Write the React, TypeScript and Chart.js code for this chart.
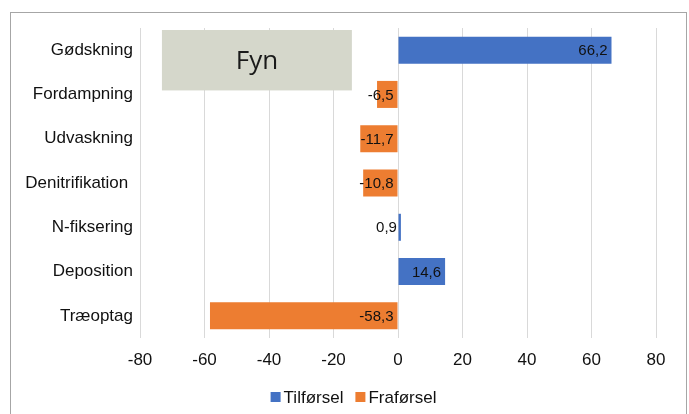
import { useEffect, useRef } from 'react';
import { Chart, registerables } from 'chart.js';

Chart.register(...registerables);

// Nitrogen balance per process (positive = supply, negative = removal)
const categories = ['Gødskning', 'Fordampning', 'Udvaskning', 'Denitrifikation ', 'N-fiksering', 'Deposition', 'Træoptag'];
const tilforsel = [66.2, null, null, null, 0.9, 14.6, null];
const fraforsel = [null, -6.5, -11.7, -10.8, null, null, -58.3];
const seriesNames = ['Tilførsel', 'Fraførsel'];
const seriesColors = ['#4472C4', '#ED7D31'];
const xMin = -80;
const xMax = 80;
const xStep = 20;
const regionLabel = 'Fyn';
const regionSpan = [-73.2, -14.3];

const fontFamily = '"Liberation Sans", Arial, sans-serif';
const axisFont = { family: fontFamily, size: 17 };
const textColor = '#111111';

const fmt = (v: number) => v.toFixed(1).replace('.', ',');

// Grey title box in the upper-left part of the plot
const regionBox = {
  id: 'regionBox',
  beforeDatasetsDraw(chart: any) {
    const { ctx, chartArea, scales } = chart;
    const x0 = scales.x.getPixelForValue(regionSpan[0]);
    const x1 = scales.x.getPixelForValue(regionSpan[1]);
    const y0 = chartArea.top + 2;
    const y1 = scales.y.getPixelForValue(1) - 4;
    ctx.save();
    ctx.fillStyle = '#D5D7CB';
    ctx.fillRect(x0, y0, x1 - x0, y1 - y0);
    ctx.fillStyle = '#1a1a1a';
    ctx.font = '26px "Open Sans", "Noto Sans", sans-serif';
    ctx.textAlign = 'center';
    ctx.textBaseline = 'middle';
    ctx.fillText(regionLabel, (x0 + x1) / 2, (y0 + y1) / 2 + 1);
    ctx.restore();
  },
};

// Value labels, right-aligned at the right edge of each bar
const valueLabels = {
  id: 'valueLabels',
  afterDatasetsDraw(chart: any) {
    const { ctx } = chart;
    ctx.save();
    ctx.font = `15px ${fontFamily}`;
    ctx.fillStyle = textColor;
    ctx.textAlign = 'right';
    ctx.textBaseline = 'middle';
    chart.data.datasets.forEach((ds: any, di: number) => {
      const meta = chart.getDatasetMeta(di);
      meta.data.forEach((el: any, i: number) => {
        const v = ds.data[i];
        if (v == null) return;
        const { x, base, y } = el.getProps(['x', 'base', 'y'], true);
        ctx.fillText(fmt(v), Math.max(x, base) - 4, y + 1);
      });
    });
    ctx.restore();
  },
};

// Compact legend below the axis: square swatch, small gap, series name
const bottomLegend = {
  id: 'bottomLegend',
  afterDraw(chart: any) {
    const { ctx, width, height } = chart;
    const box = 10;
    const gap = 3;
    const itemGap = 12;
    ctx.save();
    ctx.font = `17px ${fontFamily}`;
    ctx.textBaseline = 'middle';
    ctx.textAlign = 'left';
    const items = chart.data.datasets.map((ds: any) => ({
      text: ds.label,
      color: ds.backgroundColor,
      w: box + gap + ctx.measureText(ds.label).width,
    }));
    const total = items.reduce((s: number, it: any) => s + it.w, 0) + itemGap * (items.length - 1);
    let x = width / 2 + 9 - total / 2;
    const cy = height - 17;
    items.forEach((it: any) => {
      ctx.fillStyle = it.color;
      ctx.fillRect(x, cy - box / 2, box, box);
      ctx.fillStyle = textColor;
      ctx.fillText(it.text, x + box + gap, cy + 1);
      x += it.w + itemGap;
    });
    ctx.restore();
  },
};

export default function App() {
  const canvasRef = useRef<HTMLCanvasElement | null>(null);

  useEffect(() => {
    if (!canvasRef.current) return;
    const chart = new Chart(canvasRef.current, {
      type: 'bar',
      data: {
        labels: categories,
        datasets: [
          { label: seriesNames[0], data: tilforsel, backgroundColor: seriesColors[0], barPercentage: 0.61, categoryPercentage: 1 },
          { label: seriesNames[1], data: fraforsel, backgroundColor: seriesColors[1], barPercentage: 0.61, categoryPercentage: 1 },
        ],
      },
      options: {
        indexAxis: 'y',
        responsive: false,
        animation: false,
        layout: { padding: { left: 0, right: 33, top: 28, bottom: 37 } },
        scales: {
          x: {
            stacked: true,
            min: xMin,
            max: xMax,
            ticks: { stepSize: xStep, padding: 12, color: textColor, font: axisFont },
            grid: { color: '#d9d9d9', drawTicks: false },
            border: { display: false },
            afterFit: (s: any) => { s.height = 39; },
          },
          y: {
            stacked: true,
            ticks: { padding: 7, color: textColor, font: axisFont },
            grid: { display: false, drawTicks: false },
            border: { display: false },
            afterFit: (s: any) => { s.width = 140; },
          },
        },
        plugins: {
          legend: { display: false },
          tooltip: { enabled: false },
        },
      } as any,
      plugins: [regionBox, valueLabels, bottomLegend],
    });
    return () => chart.destroy();
  }, []);

  return (
    <>
      <canvas
        ref={canvasRef}
        width={689}
        height={414}
        style={{ position: 'fixed', left: 0, top: 0, width: 689, height: 414 }}
      />
      <div
        style={{
          position: 'fixed',
          left: 10,
          top: 12,
          width: 675,
          height: 500,
          border: '1px solid #a6a6a6',
          pointerEvents: 'none',
        }}
      />
    </>
  );
}
